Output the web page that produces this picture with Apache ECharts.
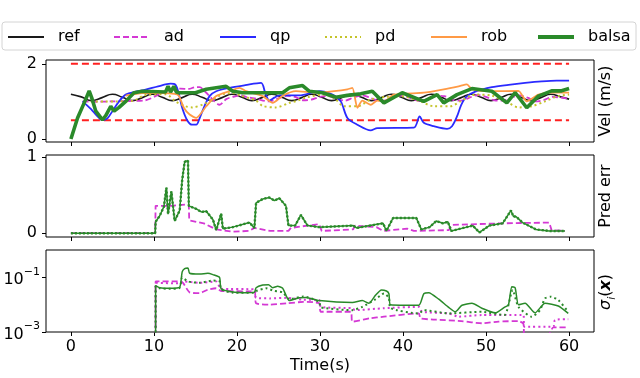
<!DOCTYPE html>
<html><head><meta charset="utf-8">
<script src="https://cdn.jsdelivr.net/npm/echarts@6/dist/echarts.min.js"></script>
<style>html,body{margin:0;padding:0;background:#fff}#c{width:640px;height:378px}</style>
</head><body><div id="c"></div><script>
// ---------- data ----------
const xTicks = [0, 10, 20, 30, 40, 50, 60];
const velTicks = [0, 2];
const errTicks = [0, 1];
const sigTicks = [0.001, 0.1];
const velBounds = [2, 0.5];
const boundT = [0, 60];

const refVel = [[0,1.19],[1.25,1.12],[2.5,1.02],[3.75,1.1],[5,1.19],[6.2,1.11],[7.4,1.02],[8.6,1.1],[9.8,1.19],[11,1.11],[12.2,1.02],[13.4,1.1],[14.6,1.19],[15.8,1.11],[17,1.02],[18.2,1.1],[19.4,1.19],[20.6,1.11],[21.8,1.02],[23,1.1],[24.2,1.19],[25.4,1.11],[26.6,1.02],[27.8,1.1],[29,1.19],[30.2,1.11],[31.4,1.02],[32.6,1.1],[33.8,1.19],[35,1.11],[36.2,1.02],[37.4,1.1],[38.6,1.19],[39.8,1.11],[41,1.02],[42.2,1.1],[43.4,1.19],[44.6,1.11],[45.8,1.02],[47,1.1],[48.2,1.19],[49.4,1.11],[50.6,1.02],[51.8,1.1],[53,1.19],[54.2,1.11],[55.4,1.02],[56.6,1.1],[57.8,1.19],[59,1.12],[60,1.06]];
const adVel = [[1.4,1.0],[3,0.99],[5,1.0],[7,1.01],[9,1.03],[10.2,1.14],[11.2,1.25],[12.2,1.32],[13.2,1.34],[14.2,1.33],[15,1.38],[15.5,1.38],[16.2,1.25],[16.7,1.14],[17.3,1.0],[17.9,0.91],[18.7,1.06],[19.5,1.12],[20.5,1.16],[21.1,1.12],[22.3,1.07],[23.9,1.0],[25,1.08],[26,1.15],[27,1.12],[28,1.03],[29,1.05],[30,1.12],[31,1.14],[32,1.07],[33,1.02],[34,1.1],[35,1.16],[36,1.1],[37,1.02],[38,1.03],[39,1.12],[40,1.16],[41,1.08],[42,1.01],[43,1.06],[44,1.15],[45,1.14],[46,1.04],[47,1.02],[48,1.1],[49,1.17],[50,1.12],[51,1.03],[52,1.02],[53,1.1],[54,1.16],[55,1.1],[56,1.0],[57,1.04],[58,1.12],[59,1.1],[60,1.07]];
const qpVel = [[1.4,1.0],[2.4,0.8],[3.2,0.6],[3.8,0.5],[4.4,0.55],[5.0,0.74],[5.8,1.0],[6.6,1.18],[7.8,1.26],[9.0,1.31],[10.5,1.4],[12.0,1.47],[12.6,1.44],[13.0,1.2],[13.4,0.83],[14.0,0.5],[14.6,0.38],[15.1,0.38],[15.5,0.55],[16.0,0.83],[16.7,1.14],[17.5,1.27],[19.1,1.36],[21,1.43],[22.9,1.49],[23.4,1.23],[23.9,1.02],[24.5,1.1],[25.1,1.16],[27.5,1.16],[29.9,1.27],[31.5,1.18],[32.5,1.0],[33.3,0.56],[34.5,0.38],[36.1,0.23],[36.9,0.29],[41.3,0.3],[42.0,0.6],[42.5,0.43],[43.7,0.34],[45.3,0.27],[45.9,0.34],[46.5,0.6],[47.0,0.9],[47.6,1.12],[48.7,1.26],[50.7,1.38],[52.7,1.44],[54.7,1.49],[56.7,1.53],[58.5,1.55],[60,1.55]];
const pdVel = [[2.4,1.0],[4,1.0],[5.5,1.0],[7.4,1.01],[9.0,1.17],[11.4,1.19],[12.6,1.0],[13.8,0.87],[14.6,0.84],[16,0.93],[17.5,1.11],[18.5,1.2],[19.5,1.22],[20.5,1.15],[22.3,1.02],[23.1,0.88],[24.7,0.84],[26.3,0.96],[27.3,1.02],[28.3,1.1],[30.3,1.18],[31.7,1.09],[32.9,0.87],[34.5,0.87],[36.1,1.05],[38,1.12],[39.7,1.14],[42.1,1.0],[43.7,0.87],[45.7,0.87],[46.9,1.0],[48.1,1.15],[48.7,1.18],[50.7,1.15],[52.7,0.96],[53.9,0.84],[55.5,0.87],[57.1,1.0],[58.7,1.14],[60,1.18]];
const robVel = [[6.6,1.15],[8.6,1.22],[11,1.22],[12.5,1.2],[13.0,1.15],[13.6,0.83],[14.3,0.65],[15.1,0.56],[16.3,0.87],[17.5,1.14],[19.1,1.27],[20.3,1.36],[21.1,1.27],[23.1,1.14],[24.3,0.96],[25.5,1.15],[27.1,1.27],[29.5,1.23],[31.7,1.27],[33.3,1.32],[33.9,1.36],[34.5,0.83],[35.1,1.02],[36.1,0.91],[36.9,1.02],[37.7,1.0],[38.9,1.18],[42.5,1.23],[44.9,1.32],[46.7,1.4],[47.7,1.45],[48.3,1.32],[50.7,1.27],[53.9,1.28],[54.9,1.0],[56.3,1.18],[57.9,1.23],[60,1.23]];
const balsaVel = [[0,0.0],[0.8,0.56],[1.6,0.96],[2.2,1.28],[2.5,1.1],[3.0,0.74],[3.8,0.51],[4.2,0.62],[4.8,0.87],[5.2,0.74],[5.8,0.84],[6.6,1.0],[7.6,1.23],[8.6,1.27],[11.4,1.25],[11.7,1.4],[12.0,1.25],[12.4,1.4],[12.7,1.25],[13.0,1.23],[15.0,1.23],[16.3,1.32],[18.7,1.4],[19.5,1.27],[20.7,1.23],[25.5,1.23],[26.3,1.36],[27.9,1.42],[28.7,1.27],[30.3,1.23],[31.9,1.11],[33.3,1.16],[34.9,1.2],[36.3,1.27],[37.7,0.96],[39.9,1.23],[42.5,1.0],[44.1,1.18],[44.9,0.96],[46.5,1.18],[48.3,1.34],[50.7,1.27],[52.5,0.96],[53.5,1.23],[54.9,0.83],[56.3,1.14],[57.9,1.28],[59.1,1.28],[60,1.34]];

const balsaErr = [[0,0],[10.15,0],[10.2,0.15],[10.7,0.23],[11.2,0.35],[11.5,0.6],[11.7,0.25],[12.1,0.55],[12.5,0.16],[13.1,0.3],[13.4,0.7],[13.7,0.94],[14.1,0.96],[14.2,0.36],[15.1,0.32],[15.7,0.28],[16.3,0.29],[17.1,0.18],[17.5,0.04],[18.1,0.26],[18.3,0.06],[19.5,0.08],[21.5,0.14],[22.1,0.07],[22.3,0.4],[23.1,0.45],[23.9,0.47],[24.5,0.43],[25.1,0.46],[25.9,0.36],[26.2,0.1],[27,0.1],[27.7,0.24],[28.5,0.1],[29.9,0.08],[34,0.1],[34.4,0.07],[36,0.1],[37.6,0.13],[38,0.03],[38.8,0.2],[41.6,0.2],[42.2,0.05],[43.2,0.08],[44,0.16],[44.8,0.13],[45.4,0.15],[45.8,0.03],[48.4,0.1],[49.2,0.01],[50.4,0.1],[52,0.13],[53,0.3],[53.3,0.22],[53.6,0.22],[54.4,0.14],[56,0.05],[57.6,0.03],[59.5,0.03]];
const adErr = [[0,0],[10.15,0],[10.2,0.36],[12,0.36],[13,0.37],[14.2,0.38],[14.25,0.17],[16,0.13],[17.5,0.05],[19.5,0.02],[21.5,0.03],[22.1,0.07],[24,0.03],[26.2,0.03],[26.5,0.07],[28.5,0.1],[29.9,0.12],[30.2,0.03],[34,0.05],[34.2,0.1],[36.8,0.08],[37.6,0.03],[40.5,0.06],[41.3,0.03],[45.5,0.04],[45.9,0.11],[52,0.13],[57.6,0.14],[57.9,0.04],[59.5,0.03]];

// sigma panel: [time, log10(sigma)]
const sigBalsaExp = [[10.2,-3.2],[10.2,-1.3],[10.7,-1.38],[12,-1.4],[13.1,-1.36],[13.4,-0.8],[13.7,-0.68],[14.1,-0.66],[14.3,-0.85],[15.5,-0.88],[16.5,-0.85],[17.1,-0.9],[17.9,-1.0],[18.1,-1.42],[19.5,-1.54],[21,-1.56],[22.1,-1.55],[22.3,-1.38],[23.1,-1.28],[23.8,-1.27],[24.3,-1.38],[24.9,-1.33],[25.5,-1.4],[26.3,-1.85],[27.5,-1.75],[28.3,-1.74],[29.9,-1.85],[33.9,-1.92],[35.1,-1.85],[35.9,-1.95],[36.7,-1.65],[37.4,-1.46],[38.0,-1.5],[38.3,-1.6],[38.5,-2.0],[41.9,-2.02],[42.5,-1.6],[43.1,-1.56],[44.3,-1.8],[45.5,-2.1],[46.3,-2.26],[47.1,-2.02],[48.3,-1.95],[49.5,-2.13],[51.1,-2.3],[52.2,-2.1],[52.7,-2.0],[53.1,-1.34],[53.5,-1.38],[53.9,-2.0],[54.7,-1.95],[55.9,-2.3],[57.1,-1.95],[58.7,-2.05],[59.9,-2.32]];
const sigBalsaDotExp = [[10.2,-3.2],[10.2,-1.32],[10.7,-1.4],[12,-1.42],[13.1,-1.38],[13.4,-1.0],[14.1,-1.15],[15.5,-1.2],[17.1,-1.12],[17.9,-1.15],[18.1,-1.44],[19.5,-1.56],[22.1,-1.56],[22.3,-1.5],[23.5,-1.4],[24.5,-1.5],[25.5,-1.55],[26.3,-1.8],[28,-1.7],[29.9,-1.9],[30.1,-2.1],[33.9,-2.2],[35.1,-2.08],[36.7,-1.8],[37.7,-1.59],[38.3,-1.75],[38.5,-2.13],[41.9,-2.32],[42.5,-2.2],[45.5,-2.32],[49.5,-2.26],[52.2,-2.38],[53.2,-1.46],[53.9,-2.08],[55.5,-2.44],[56.5,-2.2],[57.1,-1.77],[57.8,-1.71],[58.7,-1.83],[59.9,-2.26]];
const sigAdExp = [[10.2,-3.2],[10.2,-1.15],[13.1,-1.15],[13.5,-1.2],[14.3,-1.55],[15.5,-1.58],[16.5,-1.45],[17.5,-1.4],[18.1,-1.5],[22.1,-1.52],[22.3,-1.95],[24,-2.0],[26,-1.95],[28,-1.9],[29.9,-1.95],[30.1,-2.26],[33.7,-2.26],[33.9,-2.62],[36,-2.5],[37.7,-2.44],[41.9,-2.32],[42.1,-2.5],[44,-2.55],[47,-2.6],[49.5,-2.68],[51.5,-2.62],[53.9,-2.6],[54.5,-2.7],[54.6,-3.1],[57.5,-3.1],[58.1,-2.83],[59.9,-2.83]];
const sigAdDotExp = [[10.2,-3.2],[10.2,-1.2],[13.1,-1.22],[13.5,-1.15],[15.5,-1.2],[17.5,-1.15],[18.1,-1.42],[22.1,-1.44],[22.3,-1.75],[24,-1.77],[26,-1.75],[28,-1.82],[29.9,-1.83],[30.1,-2.08],[33.9,-2.13],[34.2,-2.2],[37.7,-2.13],[41.9,-2.08],[42.3,-2.26],[45.5,-2.32],[46.7,-2.44],[49.5,-2.38],[54.5,-2.38],[54.6,-2.81],[58.1,-2.81],[58.3,-2.56],[59.9,-2.53]];

const legendNames = ['ref', 'ad', 'qp', 'pd', 'rob', 'balsa'];

// ---------- chart ----------
const FF = 'DejaVu Sans';
const C = {ref:'#1a1a1a', ad:'#d438d4', qp:'#2a2aff', pd:'#c4c42a', rob:'#ff9a45', balsa:'#2a8a2a', red:'#ff2020'};
const toPow = arr => arr.map(p => [p[0], Math.pow(10, p[1])]);
const chart = echarts.init(document.getElementById('c'), null, {renderer:'canvas'});

const grids = [
  {left:46, top:60, width:548, height:82},
  {left:46, top:155, width:548, height:82},
  {left:46, top:250, width:548, height:82}
].map(g => Object.assign(g, {show:true, borderColor:'#000', borderWidth:1, backgroundColor:'transparent'}));

function xAx(i){
  return {type:'value', gridIndex:i, min:-3, max:63, position:'bottom',
    axisLine:{show:false, onZero:false}, splitLine:{show:false},
    axisTick:{show:true, customValues:xTicks, length:4, lineStyle:{color:'#000'}},
    axisLabel:{show:i===2, customValues:xTicks, fontSize:16, fontFamily:FF, color:'#000', margin:7},
    name: i===2 ? 'Time(s)' : '', nameLocation:'middle', nameGap:26,
    nameTextStyle:{fontSize:16, fontFamily:FF, color:'#000'}};
}
function yLin(i, min, max, ticks){
  return {type:'value', gridIndex:i, min:min, max:max, position:'left',
    axisLine:{show:false, onZero:false}, splitLine:{show:false},
    axisTick:{show:true, customValues:ticks, length:4, lineStyle:{color:'#000'}},
    axisLabel:{customValues:ticks, fontSize:16, fontFamily:FF, color:'#000', margin:9}};
}
const yLog = {type:'log', logBase:10, gridIndex:2, min:0.001, max:1, position:'left',
  axisLine:{show:false, onZero:false}, splitLine:{show:false}, minorTick:{show:false},
  axisTick:{show:true, customValues:sigTicks, length:4, lineStyle:{color:'#000'}},
  axisLabel:{customValues:sigTicks, color:'#000', margin:6,
    formatter: v => { const e = Math.round(Math.log10(v)); return '{b|10}{s|\u2212' + (-e) + '}'; },
    rich:{ b:{fontSize:16, fontFamily:FF, color:'#000', lineHeight:22, verticalAlign:'bottom'},
           s:{fontSize:11, fontFamily:FF, color:'#000', lineHeight:22, verticalAlign:'top'} } } };

function line(name, data, xi, color, width, type, extra){
  return Object.assign({name:name, type:'line', xAxisIndex:xi, yAxisIndex:xi, data:data,
    symbol:'none', showSymbol:false, animation:false, clip:true,
    lineStyle:{color:color, width:width, type:type}, itemStyle:{color:color}}, extra||{});
}

const series = [
  line('velmax', boundT.map(t=>[t,velBounds[0]]), 0, C.red, 2, [7,4]),
  line('velmin', boundT.map(t=>[t,velBounds[1]]), 0, C.red, 2, [7,4]),
  line('ref', refVel, 0, C.ref, 1.6, 'solid', {smooth:0.5}),
  line('ad', adVel, 0, C.ad, 1.8, [6,3], {smooth:0.3}),
  line('qp', qpVel, 0, C.qp, 1.8, 'solid', {smooth:0.3}),
  line('pd', pdVel, 0, C.pd, 2, [2,3], {smooth:0.3}),
  line('rob', robVel, 0, C.rob, 1.8, 'solid', {smooth:0.2}),
  line('balsa', balsaVel, 0, C.balsa, 3.6, 'solid'),
  line('ad err', adErr, 1, C.ad, 1.8, [6,3]),
  line('balsa err', balsaErr, 1, C.balsa, 1.5, 'solid'),
  line('balsa err dot', balsaErr, 1, C.balsa, 2.4, [2,2]),
  line('ad sigma', toPow(sigAdExp), 2, C.ad, 1.8, [6,3], {smooth:0.2}),
  line('ad sigma dot', toPow(sigAdDotExp), 2, C.ad, 2, [2,3], {smooth:0.2}),
  line('balsa sigma dot', toPow(sigBalsaDotExp), 2, C.balsa, 2, [2,3], {smooth:0.2}),
  line('balsa sigma', toPow(sigBalsaExp), 2, C.balsa, 1.5, 'solid', {smooth:0.2})
];

const legendLeft = [7, 113, 219, 324, 430, 536];
const legendWidth = [2, 2, 2, 2, 2, 4];
const legends = legendNames.map((n, i) => ({
  data:[n], left:legendLeft[i], top:29, padding:0, itemGap:0, itemWidth:36, itemHeight:14,
  selectedMode:false, itemStyle:{opacity:0, borderWidth:0}, lineStyle:{width:legendWidth[i]},
  textStyle:{fontSize:16, fontFamily:FF, color:'#000', padding:[0,0,0,9]}
}));

chart.setOption({
  backgroundColor:'#fff',
  animation:false,
  grid:grids,
  xAxis:[xAx(0), xAx(1), xAx(2)],
  yAxis:[yLin(0,-0.08,2.1,velTicks), yLin(1,-0.05,1.03,errTicks), yLog],
  legend:legends,
  series:series,
  graphic:[
    {type:'rect', z:-1, shape:{x:2, y:22, width:634, height:28, r:3}, style:{fill:'#fff', stroke:'#d4d4d4', lineWidth:1}},
    {type:'text', x:606, y:101, rotation:Math.PI/2, style:{text:'Vel (m/s)', fontSize:16, fontFamily:FF, fill:'#000', align:'center', verticalAlign:'middle'}},
    {type:'text', x:606, y:196, rotation:Math.PI/2, style:{text:'Pred err', fontSize:16, fontFamily:FF, fill:'#000', align:'center', verticalAlign:'middle'}},
    {type:'text', x:606, y:292, rotation:Math.PI/2, style:{text:'{g|\u03c3}{i|i}{p|(}{x|x}{p|)}', align:'center', verticalAlign:'middle',
      rich:{ g:{fontSize:16, fontFamily:FF, fontStyle:'italic', fill:'#000'},
             i:{fontSize:11, fontFamily:FF, fontStyle:'italic', fill:'#000', verticalAlign:'bottom', lineHeight:24},
             p:{fontSize:16, fontFamily:FF, fill:'#000'},
             x:{fontSize:16, fontFamily:FF, fontStyle:'italic', fontWeight:'bold', fill:'#000'} }}}
  ]
});
</script></body></html>
